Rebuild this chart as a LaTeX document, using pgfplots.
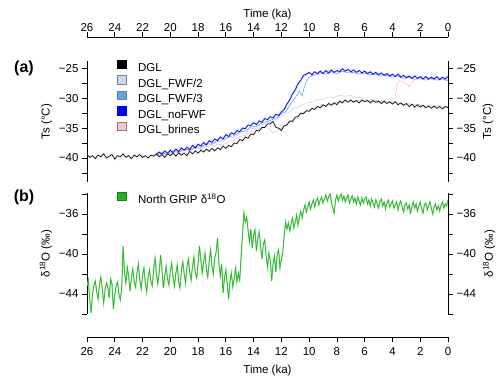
\documentclass[border=0pt]{standalone}
\usepackage{fontspec}
\setmainfont{Liberation Sans}
\usepackage{pgfplots}
\usepackage{pgfplotstable}
\pgfplotsset{compat=1.18}

\definecolor{fwfhalf}{HTML}{C4DCF6}
\definecolor{fwfthird}{HTML}{5DA6EE}
\definecolor{nofwf}{HTML}{0000FF}
\definecolor{brines}{HTML}{FFBFCB}
\definecolor{ngrip}{HTML}{1DB41D}

\newcommand{\tfont}{\fontsize{11.5}{13.5}\selectfont}

\pgfplotsset{
  common/.style={
    scale only axis, width=361pt, xmin=0, xmax=26, x dir=reverse,
    axis line style={line width=0.8pt, black},
    tick style={line width=0.8pt, black},
    major tick length=5pt, minor tick length=5pt,
    tick label style={font=\tfont},
    label style={font=\tfont},
    /pgf/number format/assume math mode=true,
  },
  timeax/.style={common, height=1pt, ymin=0, ymax=1, hide y axis,
    xtick={0,2,...,26}, tick align=outside, xlabel={Time (ka)}},
  pa/.style={common, height=121pt, ymin=-44, ymax=-23.8, hide x axis,
    ytick={-40,-35,-30,-25}, yticklabels={−40,−35,−30,−25},
    minor ytick={-42.5,-37.5,-32.5,-27.5}, ylabel={Ts (°C)}},
  pb/.style={common, height=121pt, ymin=-46, ymax=-33.9, hide x axis,
    ytick={-44,-40,-36}, yticklabels={−44,−40,−36},
    minor ytick={-46,-42,-38,-34}, ylabel={δ\textsuperscript{18}O (‰)}},
  leg/.style={
    legend image code/.code={\draw[##1, line width=0.5pt] (0pt,0pt) rectangle (8.5pt,8.5pt);},
    legend cell align=left,
    legend style={draw=none, fill=none, inner sep=0pt, anchor=north west,
      column sep=12pt, row sep=1.3pt, font=\tfont,
      nodes={inner sep=0pt, text height=8.5pt, text depth=2.5pt}},
  },
}

% DGL (black), time in ka, Ts in degC
\pgfplotstableread{
t T
26.0 -39.4
25.8 -39.9
25.6 -39.6
25.4 -40.1
25.2 -39.5
25.0 -39.8
24.8 -39.3
24.6 -40.0
24.4 -39.7
24.2 -39.4
24.0 -40.2
23.8 -39.6
23.6 -39.8
23.4 -39.3
23.2 -39.9
23.0 -39.6
22.8 -40.1
22.6 -39.5
22.4 -39.8
22.2 -39.4
22.0 -39.9
21.8 -39.6
21.6 -40.0
21.4 -39.5
21.2 -39.7
21.0 -39.3
20.8 -39.8
20.6 -39.4
20.4 -39.9
20.2 -39.3
20.0 -39.6
19.8 -39.2
19.6 -39.7
19.4 -39.1
19.2 -39.5
19.0 -39.2
18.8 -39.6
18.6 -38.9
18.4 -39.3
18.2 -38.8
18.0 -39.2
17.8 -38.7
17.6 -39.0
17.4 -38.5
17.2 -38.9
17.0 -38.4
16.8 -38.8
16.6 -38.3
16.4 -38.6
16.2 -38.0
16.0 -38.4
15.8 -37.9
15.6 -38.1
15.4 -37.5
15.2 -37.6
15.0 -36.9
14.8 -37.1
14.6 -36.5
14.4 -36.7
14.2 -36.0
14.0 -36.1
13.8 -35.4
13.6 -35.5
13.4 -34.9
13.2 -34.9
13.0 -34.3
12.8 -34.3
12.6 -33.9
12.4 -34.9
12.2 -35.0
12.0 -35.4
11.8 -34.6
11.6 -34.5
11.4 -33.8
11.2 -33.9
11.0 -33.2
10.8 -33.1
10.6 -32.5
10.4 -32.6
10.2 -32.1
10.0 -32.2
9.8 -31.7
9.6 -31.9
9.4 -31.4
9.2 -31.6
9.0 -31.1
8.8 -31.4
8.6 -30.9
8.4 -31.2
8.2 -30.8
8.0 -31.1
7.8 -30.5
7.6 -30.8
7.4 -30.3
7.2 -30.7
7.0 -30.3
6.8 -30.7
6.6 -30.4
6.4 -30.8
6.2 -30.3
6.0 -30.6
5.8 -30.4
5.6 -30.8
5.4 -30.4
5.2 -30.7
5.0 -30.5
4.8 -30.9
4.6 -30.5
4.4 -30.9
4.2 -30.6
4.0 -31.0
3.8 -30.6
3.6 -31.1
3.4 -30.8
3.2 -31.2
3.0 -30.9
2.8 -31.4
2.6 -31.0
2.4 -31.5
2.2 -31.1
2.0 -31.5
1.8 -31.2
1.6 -31.6
1.4 -31.3
1.2 -31.7
1.0 -31.3
0.8 -31.7
0.6 -31.4
0.4 -31.8
0.2 -31.4
0.0 -31.6
}\dgl

% DGL_noFWF
\pgfplotstableread{
t T
21.0 -39.3
20.8 -39.0
20.6 -39.4
20.4 -38.8
20.2 -39.2
20.0 -38.7
19.8 -39.1
19.6 -38.5
19.4 -38.9
19.2 -38.3
19.0 -38.7
18.8 -38.2
18.6 -38.6
18.4 -37.9
18.2 -38.3
18.0 -37.7
17.8 -38.0
17.6 -37.4
17.4 -37.8
17.2 -37.1
17.0 -37.4
16.8 -36.8
16.6 -37.1
16.4 -36.5
16.2 -36.8
16.0 -36.1
15.8 -36.4
15.6 -35.8
15.4 -36.0
15.2 -35.4
15.0 -35.6
14.8 -35.0
14.6 -35.1
14.4 -34.5
14.2 -34.6
14.0 -34.1
13.8 -34.4
13.6 -33.8
13.4 -34.0
13.2 -33.4
13.0 -33.6
12.8 -33.1
12.6 -33.3
12.4 -32.7
12.2 -32.9
12.0 -32.3
11.8 -31.9
11.6 -31.0
11.4 -30.3
11.2 -29.3
11.0 -28.6
10.8 -27.6
10.6 -27.0
10.4 -26.2
10.2 -26.0
10.0 -25.7
9.8 -26.1
9.6 -25.6
9.4 -25.9
9.2 -25.5
9.0 -25.9
8.8 -25.4
8.6 -25.8
8.4 -25.3
8.2 -25.7
8.0 -25.4
7.8 -25.6
7.6 -25.1
7.4 -25.5
7.2 -25.2
7.0 -25.6
6.8 -25.3
6.6 -25.7
6.4 -25.4
6.2 -25.8
6.0 -25.5
5.8 -25.9
5.6 -25.6
5.4 -26.0
5.2 -25.7
5.0 -26.1
4.8 -25.8
4.6 -26.2
4.4 -25.9
4.2 -26.3
4.0 -26.0
3.8 -26.4
3.6 -26.0
3.4 -26.5
3.2 -26.2
3.0 -26.6
2.8 -26.3
2.6 -26.7
2.4 -26.3
2.2 -26.7
2.0 -26.4
1.8 -26.8
1.6 -26.4
1.4 -26.8
1.2 -26.5
1.0 -26.8
0.8 -26.4
0.6 -26.9
0.4 -26.5
0.2 -26.8
0.0 -26.4
}\nofwf

% DGL_FWF/3
\pgfplotstableread{
t T
21.0 -39.6
20.6 -39.1
20.2 -39.4
19.8 -38.8
19.4 -39.0
19.0 -38.5
18.6 -38.7
18.2 -38.1
17.8 -38.2
17.4 -37.6
17.0 -37.7
16.6 -37.0
16.2 -37.0
15.8 -36.4
15.4 -36.3
15.0 -35.6
14.6 -35.5
14.2 -34.8
13.8 -34.7
13.4 -34.1
13.0 -33.9
12.6 -33.5
12.2 -33.1
12.0 -32.5
11.8 -32.4
11.6 -32.0
11.4 -31.2
11.2 -30.5
11.0 -29.9
10.8 -29.2
10.7 -28.8
10.6 -29.3
10.5 -29.6
10.4 -28.6
10.2 -27.2
10.0 -26.5
9.6 -26.1
9.2 -25.8
8.8 -26.0
8.4 -25.6
8.0 -25.9
7.6 -25.5
7.2 -25.8
6.8 -25.7
6.4 -26.0
6.0 -25.8
5.6 -26.1
5.2 -26.0
4.8 -26.3
4.4 -26.2
4.0 -26.5
3.6 -26.3
3.2 -26.7
2.8 -26.5
2.4 -26.9
2.0 -26.6
1.6 -27.0
1.2 -26.7
0.8 -27.0
0.4 -26.8
0.0 -27.1
}\fwfthird

% DGL_FWF/2
\pgfplotstableread{
t T
21.0 -39.5
20.6 -39.2
20.2 -39.5
19.8 -38.9
19.4 -39.1
19.0 -38.6
18.6 -38.8
18.2 -38.2
17.8 -38.4
17.4 -37.8
17.0 -37.9
16.6 -37.2
16.2 -37.3
15.8 -36.6
15.4 -36.6
15.0 -35.9
14.6 -35.8
14.2 -35.1
13.8 -35.0
13.4 -34.4
13.0 -34.2
12.6 -33.8
12.2 -33.3
11.8 -32.7
11.4 -32.3
11.0 -31.6
10.6 -31.3
10.2 -30.8
9.8 -30.7
9.4 -30.2
9.0 -30.2
8.6 -29.8
8.2 -29.9
7.8 -29.5
7.4 -29.7
7.0 -29.5
6.6 -29.9
6.2 -29.9
5.8 -30.3
5.4 -30.2
5.0 -30.5
4.6 -30.4
4.2 -30.7
3.8 -30.6
3.4 -30.9
3.0 -30.8
2.6 -31.1
2.2 -31.0
1.8 -31.3
1.4 -31.1
1.0 -31.4
0.6 -31.2
0.2 -31.5
0.0 -31.3
}\fwfhalf

% DGL_brines
\pgfplotstableread{
t T
21.0 -39.4
20.6 -39.0
20.2 -39.3
19.8 -38.8
19.4 -39.1
19.0 -38.7
18.6 -38.9
18.2 -38.3
17.8 -38.6
17.4 -38.0
17.0 -38.2
16.6 -37.7
16.2 -37.8
15.8 -37.2
15.4 -37.0
15.0 -36.4
14.6 -36.2
14.2 -35.6
13.8 -35.4
13.4 -34.9
13.0 -34.8
12.8 -35.4
12.6 -35.8
12.4 -35.5
12.2 -35.3
11.8 -34.7
11.4 -34.1
11.0 -33.3
10.6 -32.7
10.2 -32.1
9.8 -31.8
9.4 -31.4
9.0 -31.2
8.6 -31.0
8.2 -30.8
7.8 -30.6
7.4 -30.4
7.0 -30.5
6.6 -30.4
6.2 -30.5
5.8 -30.4
5.4 -30.6
5.0 -30.5
4.6 -30.7
4.2 -30.6
3.9 -30.8
3.8 -29.8
3.7 -28.2
3.6 -27.4
3.4 -27.1
3.2 -27.3
3.0 -27.6
2.8 -28.1
2.7 -27.8
2.5 -27.0
2.2 -26.8
1.8 -26.9
1.4 -26.7
1.0 -27.0
0.6 -26.8
0.2 -27.0
0.0 -26.9
}\brinestab

% North GRIP d18O (permil)
\pgfplotstableread{
t d
26.0 -43.2
25.9 -42.6
25.8 -44.6
25.7 -45.9
25.6 -44.0
25.5 -43.1
25.4 -42.7
25.3 -43.8
25.2 -44.5
25.1 -43.0
25.0 -42.3
24.9 -43.5
24.8 -44.9
24.7 -43.6
24.6 -42.9
24.5 -43.3
24.4 -44.4
24.3 -42.5
24.2 -43.0
24.1 -45.5
24.0 -44.1
23.9 -43.2
23.8 -42.8
23.7 -44.0
23.6 -44.6
23.5 -43.4
23.4 -39.2
23.3 -41.8
23.2 -42.9
23.1 -41.3
23.0 -42.2
22.9 -43.7
22.8 -42.4
22.7 -41.5
22.6 -42.8
22.5 -43.3
22.4 -41.9
22.3 -41.0
22.2 -42.6
22.1 -43.5
22.0 -42.1
21.9 -41.4
21.8 -42.9
21.7 -43.8
21.6 -42.3
21.5 -41.6
21.4 -42.7
21.3 -43.2
21.2 -41.5
21.1 -40.4
21.0 -42.0
20.9 -43.0
20.8 -41.8
20.7 -40.1
20.6 -41.6
20.5 -43.4
20.4 -42.2
20.3 -41.2
20.2 -42.5
20.1 -43.1
20.0 -41.7
19.9 -40.9
19.8 -42.3
19.7 -43.2
19.6 -41.9
19.5 -41.1
19.4 -42.8
19.3 -43.4
19.2 -41.6
19.1 -40.8
19.0 -42.0
18.9 -42.9
18.8 -41.3
18.7 -40.5
18.6 -41.8
18.5 -42.6
18.4 -41.2
18.3 -40.3
18.2 -41.9
18.1 -42.4
18.0 -41.0
17.9 -39.2
17.8 -40.6
17.7 -41.9
17.6 -40.8
17.5 -39.9
17.4 -41.5
17.3 -42.3
17.2 -40.7
17.1 -39.6
17.0 -41.2
16.9 -42.0
16.8 -40.4
16.7 -39.8
16.6 -38.4
16.5 -40.9
16.4 -42.2
16.3 -41.0
16.2 -43.9
16.1 -42.4
16.0 -41.6
15.9 -43.0
15.8 -44.5
15.7 -42.7
15.6 -41.9
15.5 -43.3
15.4 -42.5
15.3 -41.4
15.2 -42.8
15.1 -41.9
15.0 -42.6
14.9 -40.3
14.8 -38.0
14.7 -35.9
14.6 -36.8
14.5 -36.3
14.4 -37.6
14.3 -38.8
14.2 -37.5
14.1 -39.4
14.0 -38.1
13.9 -37.6
13.8 -39.7
13.7 -38.4
13.6 -37.8
13.5 -39.2
13.4 -40.5
13.3 -39.0
13.2 -38.6
13.1 -40.2
13.0 -41.3
12.9 -39.9
12.8 -40.6
12.7 -42.7
12.6 -41.0
12.5 -40.2
12.4 -41.8
12.3 -40.0
12.2 -39.6
12.1 -41.4
12.0 -40.5
11.9 -39.9
11.8 -38.2
11.7 -36.8
11.6 -37.5
11.5 -36.9
11.4 -37.7
11.3 -37.0
11.2 -36.4
11.1 -37.4
11.0 -36.8
10.9 -36.1
10.8 -37.1
10.7 -36.3
10.6 -35.7
10.5 -36.4
10.4 -35.6
10.3 -35.1
10.2 -35.8
10.1 -35.3
10.0 -34.8
9.9 -35.5
9.8 -35.0
9.7 -34.6
9.6 -35.3
9.5 -34.7
9.4 -34.4
9.3 -35.1
9.2 -34.6
9.1 -34.3
9.0 -34.9
8.9 -34.5
8.8 -34.1
8.7 -34.7
8.6 -34.3
8.5 -34.0
8.4 -34.8
8.3 -35.4
8.2 -35.9
8.1 -34.6
8.0 -34.1
7.9 -34.7
7.8 -34.3
7.7 -34.0
7.6 -34.6
7.5 -34.2
7.4 -34.8
7.3 -34.4
7.2 -34.1
7.1 -34.9
7.0 -34.5
6.9 -34.2
6.8 -34.8
6.7 -34.4
6.6 -35.0
6.5 -34.3
6.4 -34.7
6.3 -35.1
6.2 -34.4
6.1 -34.9
6.0 -34.5
5.9 -34.3
5.8 -35.0
5.7 -34.6
5.6 -35.2
5.5 -34.5
5.4 -34.9
5.3 -35.3
5.2 -34.6
5.1 -35.0
5.0 -35.4
4.9 -34.7
4.8 -34.5
4.7 -35.2
4.6 -34.8
4.5 -35.5
4.4 -34.9
4.3 -34.6
4.2 -35.3
4.1 -35.0
4.0 -34.7
3.9 -35.4
3.8 -35.1
3.7 -34.8
3.6 -35.6
3.5 -35.0
3.4 -34.7
3.3 -35.3
3.2 -35.8
3.1 -35.1
3.0 -34.9
2.9 -35.5
2.8 -35.1
2.7 -35.9
2.6 -35.3
2.5 -34.8
2.4 -35.4
2.3 -35.0
2.2 -35.7
2.1 -35.2
2.0 -34.8
1.9 -35.5
1.8 -35.9
1.7 -35.1
1.6 -34.9
1.5 -35.6
1.4 -35.2
1.3 -34.8
1.2 -35.4
1.1 -36.0
1.0 -35.3
0.9 -35.0
0.8 -35.6
0.7 -35.2
0.6 -35.7
0.5 -35.1
0.4 -34.8
0.3 -35.4
0.2 -35.0
0.1 -35.2
0.0 -34.6
}\ngrip

\begin{document}
\begin{tikzpicture}
\useasboundingbox (0,0) rectangle (500pt,379pt);

% top time axis
\begin{axis}[timeax, at={(87pt,342pt)}, anchor=north west, axis x line*=top,
  xticklabel style={yshift=-3pt}, xlabel style={yshift=-3pt}]
\end{axis}

% panel (a), left side with data
\begin{axis}[pa, leg, at={(87pt,197pt)}, anchor=south west, axis y line*=left, tick align=outside,
  legend style={at={(0.083,1.012)}}]
\addplot[fwfhalf, line width=0.6pt, forget plot] table[x=t, y=T] {\fwfhalf};
\addplot[fwfthird, line width=0.6pt, forget plot] table[x=t, y=T] {\fwfthird};
\addplot[brines, line width=0.6pt, forget plot] table[x=t, y=T] {\brinestab};
\addplot[nofwf, line width=1.5pt, opacity=0.3, forget plot] table[x=t, y=T] {\nofwf};
\addplot[nofwf, line width=0.6pt, forget plot] table[x=t, y=T] {\nofwf};
\addplot[gray, line width=1.5pt, opacity=0.35, forget plot] table[x=t, y=T] {\dgl};
\addplot[black, line width=0.55pt, forget plot] table[x=t, y=T] {\dgl};
\addlegendimage{fill=black, draw=black}
\addlegendentry{DGL}
\addlegendimage{fill=fwfhalf, draw=gray}
\addlegendentry{DGL\_FWF/2}
\addlegendimage{fill=fwfthird, draw=gray}
\addlegendentry{DGL\_FWF/3}
\addlegendimage{fill=nofwf, draw=nofwf}
\addlegendentry{DGL\_noFWF}
\addlegendimage{fill=brines, draw=gray}
\addlegendentry{DGL\_brines}
\end{axis}

% panel (a), right side
\begin{axis}[pa, at={(87pt,197pt)}, anchor=south west, axis y line*=right, tick align=outside]
\end{axis}

% panel (b), left side with data
\begin{axis}[pb, leg, at={(87pt,65pt)}, anchor=south west, axis y line*=left, tick align=outside,
  legend style={at={(0.083,1.012)}}]
\addplot[ngrip!55!white, line width=1.2pt, forget plot] table[x=t, y=d] {\ngrip};
\addplot[ngrip, line width=0.5pt, forget plot] table[x=t, y=d] {\ngrip};
\addlegendimage{fill=ngrip, draw=ngrip!70!black}
\addlegendentry{North GRIP δ\textsuperscript{18}O}
\end{axis}

% panel (b), right side
\begin{axis}[pb, at={(87pt,65pt)}, anchor=south west, axis y line*=right, tick align=outside]
\end{axis}

% bottom time axis
\begin{axis}[timeax, at={(87pt,42pt)}, anchor=south west, axis x line*=bottom,
  xticklabel style={yshift=-2pt}, xlabel style={yshift=-3pt}]
\end{axis}

\node[font=\bfseries\fontsize{16}{18}\selectfont] at (24pt,311pt) {(a)};
\node[font=\bfseries\fontsize{16}{18}\selectfont] at (24pt,182pt) {(b)};
\end{tikzpicture}
\end{document}
